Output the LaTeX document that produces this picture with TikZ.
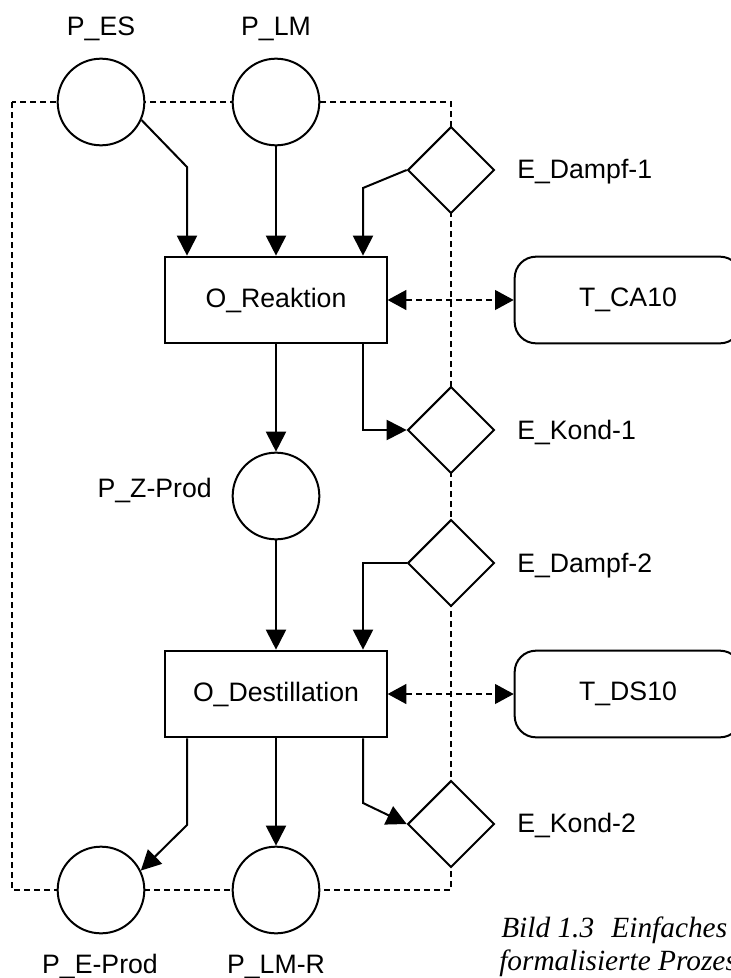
\documentclass[tikz,border=0pt]{standalone}
\usepackage{fontspec}
\setmainfont{Liberation Sans}
\newfontfamily\capfont{Liberation Serif}
\usetikzlibrary{arrows.meta,shapes.geometric}
\begin{document}
\begin{tikzpicture}[x=0.75pt,y=-0.75pt,
  lbl/.style={font=\fontsize{20pt}{24pt}\selectfont, inner sep=0pt},
  place/.style={circle, draw, fill=white, line width=1.5pt, minimum size=65pt, inner sep=0pt},
  oper/.style={rectangle, draw, fill=white, line width=1.5pt, minimum width=166pt, minimum height=65pt, font=\fontsize{20pt}{24pt}\selectfont},
  event/.style={diamond, aspect=1, draw, fill=white, line width=1.5pt, minimum size=65pt, inner sep=0pt},
  tool/.style={rectangle, rounded corners=16pt, draw, fill=white, line width=1.5pt, minimum width=170pt, minimum height=65pt, font=\fontsize{20pt}{24pt}\selectfont},
  arr/.style={line width=1.5pt, -{Triangle[length=15pt,width=15pt]}},
  darr/.style={line width=0.8pt, dash pattern=on 4.5pt off 3pt, {Triangle[length=14pt,width=15pt]}-{Triangle[length=14pt,width=15pt]}},
  framed/.style={line width=0.8pt, dash pattern=on 4.5pt off 3pt},
  capt/.style={font=\capfont\itshape\fontsize{22pt}{26pt}\selectfont, inner sep=0pt}
]
\useasboundingbox (0,0) rectangle (731,978);
% dashed frame
\draw[framed] (12,102) rectangle (451,890);

% nodes
\node[place] (PES) at (101,102) {};
\node[place] (PLM) at (276,102) {};
\node[event] (ED1) at (451,170) {};
\node[oper] (OR) at (276,300) {O\_Reaktion};
\node[tool] (TCA) at (628,300) {T\_CA10};
\node[event] (EK1) at (451,430) {};
\node[place] (PZ) at (276,496) {};
\node[event] (ED2) at (451,563) {};
\node[oper] (OD) at (276,694) {O\_Destillation};
\node[tool] (TDS) at (628,694) {T\_DS10};
\node[event] (EK2) at (451,824) {};
\node[place] (PEP) at (101,890) {};
\node[place] (PLMR) at (276,890) {};

% labels
\node[lbl, anchor=base] (lPES) at (101,35) {P\_ES};
\node[lbl, anchor=base] (lPLM) at (276,35) {P\_LM};
\node[lbl, anchor=base west] (lED1) at (517,178) {E\_Dampf-1};
\node[lbl, anchor=base west] (lEK1) at (517,439) {E\_Kond-1};
\node[lbl, anchor=base east] (lPZ) at (212,497) {P\_Z-Prod};
\node[lbl, anchor=base west] (lED2) at (517,572) {E\_Dampf-2};
\node[lbl, anchor=base west] (lEK2) at (517,832) {E\_Kond-2};
\node[lbl, anchor=base] (lPEP) at (100,973) {P\_E-Prod};
\node[lbl, anchor=base] (lPLMR) at (276,973) {P\_LM-R};

% caption
\node[capt, anchor=base west] (cap1) at (501,937) {Bild 1.3\hspace{13pt}Einfaches};
\node[capt, anchor=base west] (cap2) at (499,970) {formalisierte Prozes};

% helper coordinates
\coordinate (c1) at (187,167);
\coordinate (c2) at (363,188);
\coordinate (c4) at (363,803);
\coordinate (c5) at (187,825);

% connectors
\draw[arr] (PES.-24) -- (c1) -- (c1 |- OR.north);
\draw[arr] (PLM.south) -- (PLM.south |- OR.north);
\draw[arr] (ED1.west) -- (c2) -- (c2 |- OR.north);
\draw[darr] (OR.east) -- (TCA.west);
\draw[arr] (OR.south) -- (PZ.north);
\draw[arr] (c2 |- OR.south) -- (c2 |- EK1.west) -- (EK1.west);
\draw[arr] (PZ.south) -- (OD.north);
\draw[arr] (ED2.west) -- (c2 |- ED2.west) -- (c2 |- OD.north);
\draw[darr] (OD.east) -- (TDS.west);
\draw[arr] (c2 |- OD.south) -- (c4) -- (EK2.west);
\draw[arr] (c1 |- OD.south) -- (c5) -- (PEP.26);
\draw[arr] (OD.south) -- (PLMR.north);
\end{tikzpicture}
\end{document}
